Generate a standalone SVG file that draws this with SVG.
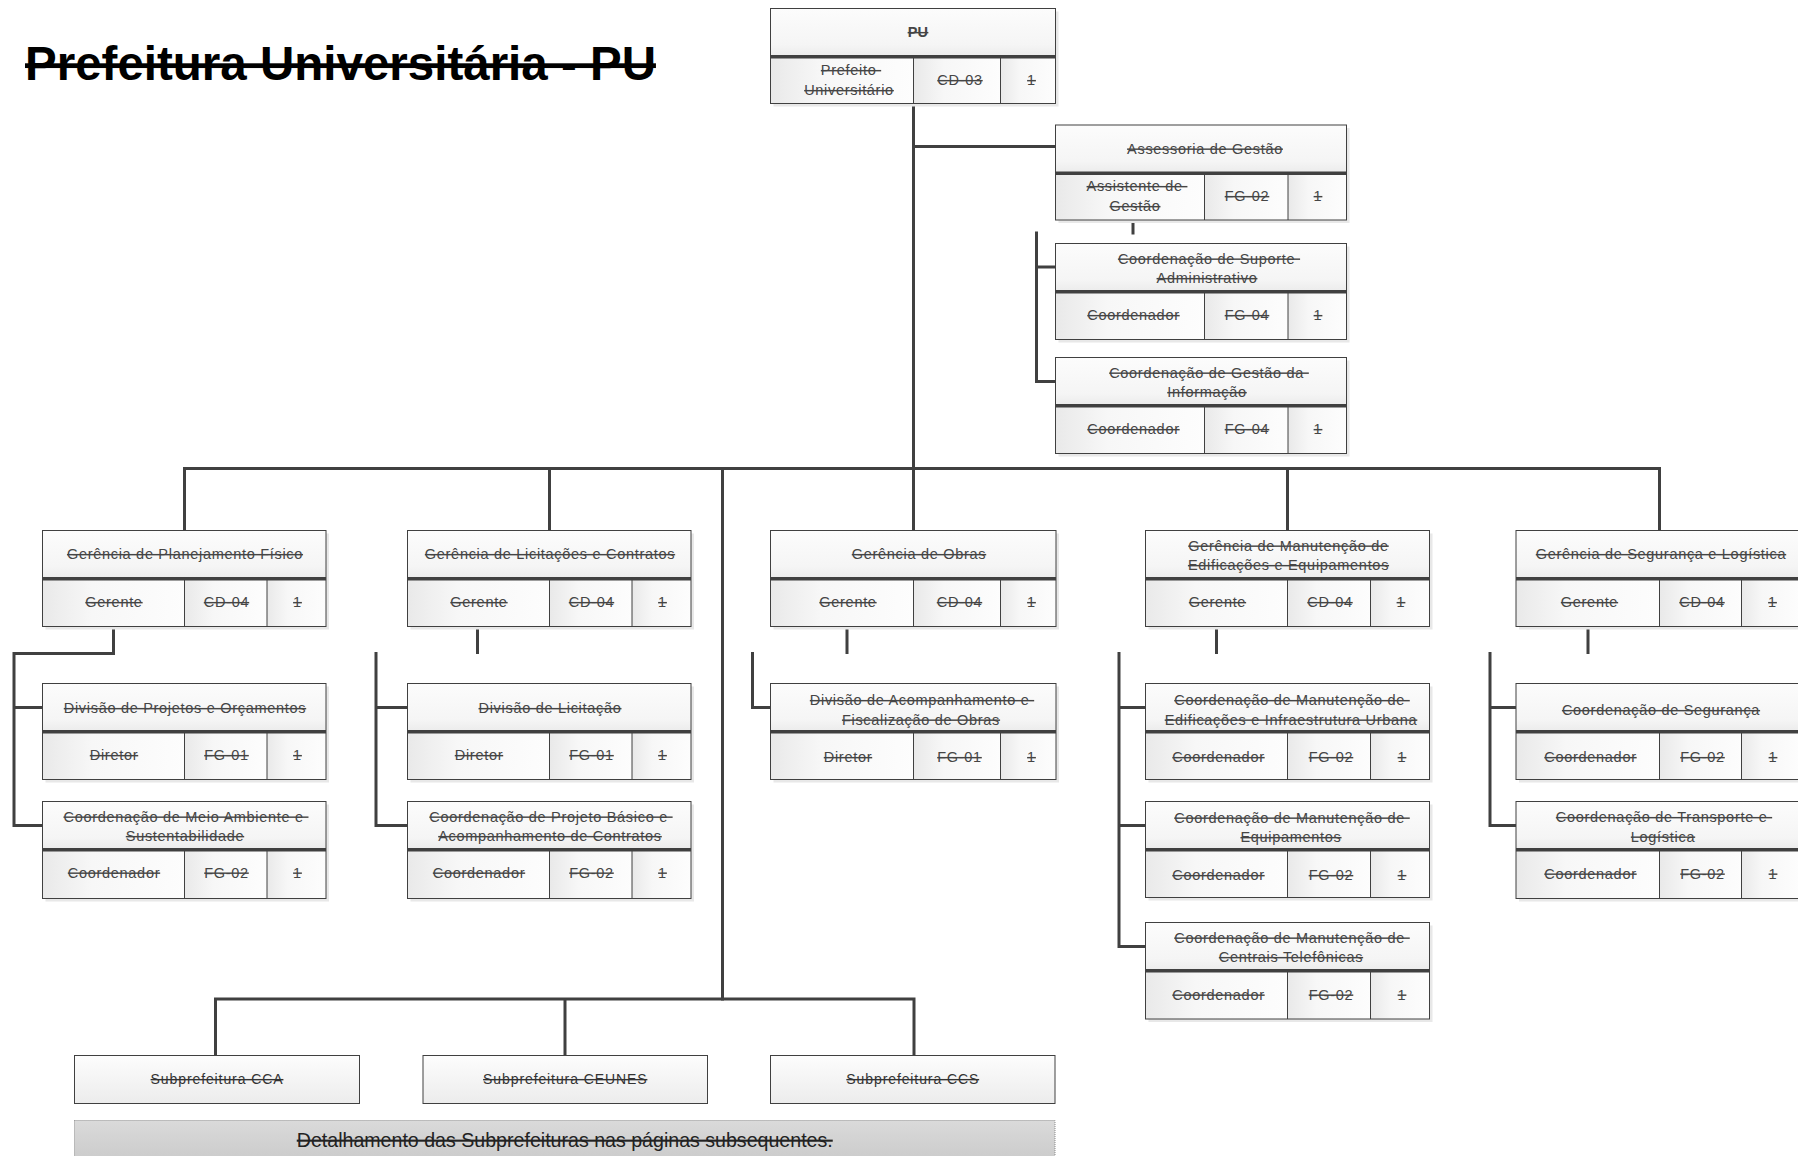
<svg xmlns="http://www.w3.org/2000/svg" width="1798" height="1156" viewBox="0 0 1798 1156">
<defs>
<linearGradient id="hg" x1="0" y1="0" x2="0" y2="1"><stop offset="0" stop-color="#fcfcfc"/><stop offset="0.75" stop-color="#f5f5f5"/><stop offset="1" stop-color="#ebebeb"/></linearGradient>
<linearGradient id="cg" x1="0" y1="0" x2="1" y2="0"><stop offset="0" stop-color="#e9e9e9"/><stop offset="0.35" stop-color="#f7f7f7"/><stop offset="1" stop-color="#fdfdfd"/></linearGradient>
<linearGradient id="sg" x1="0" y1="0" x2="0" y2="1"><stop offset="0" stop-color="#fdfdfd"/><stop offset="1" stop-color="#ececec"/></linearGradient>
<linearGradient id="ng" x1="0" y1="0" x2="0" y2="1"><stop offset="0" stop-color="#dadada"/><stop offset="1" stop-color="#c9c9c9"/></linearGradient>
</defs>
<style>
.sh{fill:#e8e8e8}
.hd{fill:url(#hg)}
.cl{fill:url(#cg)}
.bd{fill:none;stroke:#404040;stroke-width:1}
.sep{stroke:#404040;stroke-width:3.5}
.dv{stroke:#404040;stroke-width:1}
.t{font-family:"Liberation Sans",Arial,sans-serif;font-size:14.5px;letter-spacing:0.7px;fill:#454545;text-anchor:middle;text-decoration:line-through;white-space:pre}
.b{font-weight:bold;letter-spacing:0.3px}
.cn{fill:none;stroke:#404040;stroke-width:3;stroke-linecap:square;stroke-linejoin:miter}
.sb{fill:url(#sg);stroke:#404040;stroke-width:1}
.st{font-family:"Liberation Sans",Arial,sans-serif;font-size:14px;letter-spacing:0.9px;fill:#333;text-anchor:middle;text-decoration:line-through}
</style>
<rect width="1798" height="1156" fill="#ffffff"/>
<text x="25" y="80" font-family="'Liberation Sans',Arial,sans-serif" font-size="47.5" font-weight="bold" fill="#000" text-decoration="line-through">Prefeitura Universitária - PU</text>

<g id="connectors">
<path class="cn" d="M913.5 103.5V530.5M913.5 146.5H1055.5M1133 220V233M1036.5 233V381.5M1036.5 267H1055.5M1036.5 381.5H1055.5"/>
<path class="cn" d="M184.5 468.5H1659.5M184.5 468.5V530.5M549.5 468.5V530.5M1287.5 468.5V530.5M1659.5 468.5V530.5M722.5 468.5V999"/>
<path class="cn" d="M215.5 999H914M215.5 999V1055M565 999V1055M914 999V1055"/>
<path class="cn" d="M113.5 626.5V653.5H14V825.5M14 707.5H42.5M14 825.5H42.5"/>
<path class="cn" d="M477.5 626.5V652.5M376 653.5V825.5M376 707.5H407.5M376 825.5H407.5"/>
<path class="cn" d="M847 626.5V652.5M752.5 653.5V707.5H770.5"/>
<path class="cn" d="M1216.5 626.5V652.5M1119 653.5V946.5M1119 707.5H1145.5M1119 825.5H1145.5M1119 946.5H1145.5"/>
<path class="cn" d="M1588 626.5V652.5M1490 653.5V825.5M1490 707.5H1516M1490 825.5H1516"/>
</g>

<g id="n-pu">
<rect class="sh" x="773.5" y="11.5" width="285" height="95"/>
<rect class="hd" x="770.5" y="8.5" width="285" height="48.3"/>
<rect class="cl" x="770.5" y="56.8" width="143" height="46.7"/>
<rect class="cl" x="913.5" y="56.8" width="87" height="46.7"/>
<rect class="cl" x="1000.5" y="56.8" width="55" height="46.7"/>
<rect class="bd" x="770.5" y="8.5" width="285" height="95"/>
<line class="sep" x1="770.5" y1="56.8" x2="1055.5" y2="56.8"/>
<line class="dv" x1="913.5" y1="56.8" x2="913.5" y2="103.5"/>
<line class="dv" x1="1000.5" y1="56.8" x2="1000.5" y2="103.5"/>
<text class="t b" x="918" y="37">PU</text>
<text class="t" x="851" y="75">Prefeito </text>
<text class="t" x="849" y="95">Universitário</text>
<text class="t" x="960" y="85">CD-03</text>
<text class="t" x="1031.5" y="85">1</text>
</g>

<g id="n-assessoria">
<rect class="sh" x="1058.5" y="128" width="291" height="95"/>
<rect class="hd" x="1055.5" y="125" width="291" height="48.3"/>
<rect class="cl" x="1055.5" y="173.3" width="149" height="46.7"/>
<rect class="cl" x="1204.5" y="173.3" width="83.5" height="46.7"/>
<rect class="cl" x="1288" y="173.3" width="58.5" height="46.7"/>
<rect class="bd" x="1055.5" y="125" width="291" height="95"/>
<line class="sep" x1="1055.5" y1="173.3" x2="1346.5" y2="173.3"/>
<line class="dv" x1="1204.5" y1="173.3" x2="1204.5" y2="220"/>
<line class="dv" x1="1288" y1="173.3" x2="1288" y2="220"/>
<text class="t" x="1205" y="153.5">Assessoria de Gestão</text>
<text class="t" x="1137" y="191">Assistente de </text>
<text class="t" x="1135" y="211">Gestão</text>
<text class="t" x="1247" y="201">FG-02</text>
<text class="t" x="1318" y="201">1</text>
</g>

<g id="n-suporte">
<rect class="sh" x="1058.5" y="246.5" width="291" height="96"/>
<rect class="hd" x="1055.5" y="243.5" width="291" height="48.3"/>
<rect class="cl" x="1055.5" y="291.8" width="149" height="47.7"/>
<rect class="cl" x="1204.5" y="291.8" width="83.5" height="47.7"/>
<rect class="cl" x="1288" y="291.8" width="58.5" height="47.7"/>
<rect class="bd" x="1055.5" y="243.5" width="291" height="96"/>
<line class="sep" x1="1055.5" y1="291.8" x2="1346.5" y2="291.8"/>
<line class="dv" x1="1204.5" y1="291.8" x2="1204.5" y2="339.5"/>
<line class="dv" x1="1288" y1="291.8" x2="1288" y2="339.5"/>
<text class="t" x="1209" y="263.5">Coordenação de Suporte </text>
<text class="t" x="1207" y="283">Administrativo</text>
<text class="t" x="1133.5" y="320">Coordenador</text>
<text class="t" x="1247" y="320">FG-04</text>
<text class="t" x="1318" y="320">1</text>
</g>

<g id="n-gestao-info">
<rect class="sh" x="1058.5" y="360.5" width="291" height="96"/>
<rect class="hd" x="1055.5" y="357.5" width="291" height="48.3"/>
<rect class="cl" x="1055.5" y="405.8" width="149" height="47.7"/>
<rect class="cl" x="1204.5" y="405.8" width="83.5" height="47.7"/>
<rect class="cl" x="1288" y="405.8" width="58.5" height="47.7"/>
<rect class="bd" x="1055.5" y="357.5" width="291" height="96"/>
<line class="sep" x1="1055.5" y1="405.8" x2="1346.5" y2="405.8"/>
<line class="dv" x1="1204.5" y1="405.8" x2="1204.5" y2="453.5"/>
<line class="dv" x1="1288" y1="405.8" x2="1288" y2="453.5"/>
<text class="t" x="1209" y="377.5">Coordenação de Gestão da </text>
<text class="t" x="1207" y="397">Informação</text>
<text class="t" x="1133.5" y="434">Coordenador</text>
<text class="t" x="1247" y="434">FG-04</text>
<text class="t" x="1318" y="434">1</text>
</g>

<g id="n-gpf">
<rect class="sh" x="45.5" y="533.5" width="283.5" height="96"/>
<rect class="hd" x="42.5" y="530.5" width="283.5" height="48.3"/>
<rect class="cl" x="42.5" y="578.8" width="142" height="47.7"/>
<rect class="cl" x="184.5" y="578.8" width="82.5" height="47.7"/>
<rect class="cl" x="267" y="578.8" width="59" height="47.7"/>
<rect class="bd" x="42.5" y="530.5" width="283.5" height="96"/>
<line class="sep" x1="42.5" y1="578.8" x2="326" y2="578.8"/>
<line class="dv" x1="184.5" y1="578.8" x2="184.5" y2="626.5"/>
<line class="dv" x1="267" y1="578.8" x2="267" y2="626.5"/>
<text class="t" x="185" y="559">Gerência de Planejamento Físico</text>
<text class="t" x="114" y="607">Gerente</text>
<text class="t" x="226.5" y="607">CD-04</text>
<text class="t" x="297.5" y="607">1</text>
</g>

<g id="n-dpo">
<rect class="sh" x="45.5" y="686.5" width="283.5" height="96"/>
<rect class="hd" x="42.5" y="683.5" width="283.5" height="48.3"/>
<rect class="cl" x="42.5" y="731.8" width="142" height="47.7"/>
<rect class="cl" x="184.5" y="731.8" width="82.5" height="47.7"/>
<rect class="cl" x="267" y="731.8" width="59" height="47.7"/>
<rect class="bd" x="42.5" y="683.5" width="283.5" height="96"/>
<line class="sep" x1="42.5" y1="731.8" x2="326" y2="731.8"/>
<line class="dv" x1="184.5" y1="731.8" x2="184.5" y2="779.5"/>
<line class="dv" x1="267" y1="731.8" x2="267" y2="779.5"/>
<text class="t" x="185" y="713">Divisão de Projetos e Orçamentos</text>
<text class="t" x="114" y="760">Diretor</text>
<text class="t" x="226.5" y="760">FG-01</text>
<text class="t" x="297.5" y="760">1</text>
</g>

<g id="n-cmas">
<rect class="sh" x="45.5" y="804.5" width="283.5" height="97"/>
<rect class="hd" x="42.5" y="801.5" width="283.5" height="48.3"/>
<rect class="cl" x="42.5" y="849.8" width="142" height="48.7"/>
<rect class="cl" x="184.5" y="849.8" width="82.5" height="48.7"/>
<rect class="cl" x="267" y="849.8" width="59" height="48.7"/>
<rect class="bd" x="42.5" y="801.5" width="283.5" height="97"/>
<line class="sep" x1="42.5" y1="849.8" x2="326" y2="849.8"/>
<line class="dv" x1="184.5" y1="849.8" x2="184.5" y2="898.5"/>
<line class="dv" x1="267" y1="849.8" x2="267" y2="898.5"/>
<text class="t" x="186" y="821.5">Coordenação de Meio Ambiente e </text>
<text class="t" x="185" y="841">Sustentabilidade</text>
<text class="t" x="114" y="877.5">Coordenador</text>
<text class="t" x="226.5" y="877.5">FG-02</text>
<text class="t" x="297.5" y="877.5">1</text>
</g>

<g id="n-glc">
<rect class="sh" x="410.5" y="533.5" width="283.5" height="96"/>
<rect class="hd" x="407.5" y="530.5" width="283.5" height="48.3"/>
<rect class="cl" x="407.5" y="578.8" width="142" height="47.7"/>
<rect class="cl" x="549.5" y="578.8" width="82.5" height="47.7"/>
<rect class="cl" x="632" y="578.8" width="59" height="47.7"/>
<rect class="bd" x="407.5" y="530.5" width="283.5" height="96"/>
<line class="sep" x1="407.5" y1="578.8" x2="691" y2="578.8"/>
<line class="dv" x1="549.5" y1="578.8" x2="549.5" y2="626.5"/>
<line class="dv" x1="632" y1="578.8" x2="632" y2="626.5"/>
<text class="t" x="550" y="559">Gerência de Licitações e Contratos</text>
<text class="t" x="479" y="607">Gerente</text>
<text class="t" x="591.5" y="607">CD-04</text>
<text class="t" x="662.5" y="607">1</text>
</g>

<g id="n-dl">
<rect class="sh" x="410.5" y="686.5" width="283.5" height="96"/>
<rect class="hd" x="407.5" y="683.5" width="283.5" height="48.3"/>
<rect class="cl" x="407.5" y="731.8" width="142" height="47.7"/>
<rect class="cl" x="549.5" y="731.8" width="82.5" height="47.7"/>
<rect class="cl" x="632" y="731.8" width="59" height="47.7"/>
<rect class="bd" x="407.5" y="683.5" width="283.5" height="96"/>
<line class="sep" x1="407.5" y1="731.8" x2="691" y2="731.8"/>
<line class="dv" x1="549.5" y1="731.8" x2="549.5" y2="779.5"/>
<line class="dv" x1="632" y1="731.8" x2="632" y2="779.5"/>
<text class="t" x="550" y="713">Divisão de Licitação</text>
<text class="t" x="479" y="760">Diretor</text>
<text class="t" x="591.5" y="760">FG-01</text>
<text class="t" x="662.5" y="760">1</text>
</g>

<g id="n-cpb">
<rect class="sh" x="410.5" y="804.5" width="283.5" height="97"/>
<rect class="hd" x="407.5" y="801.5" width="283.5" height="48.3"/>
<rect class="cl" x="407.5" y="849.8" width="142" height="48.7"/>
<rect class="cl" x="549.5" y="849.8" width="82.5" height="48.7"/>
<rect class="cl" x="632" y="849.8" width="59" height="48.7"/>
<rect class="bd" x="407.5" y="801.5" width="283.5" height="97"/>
<line class="sep" x1="407.5" y1="849.8" x2="691" y2="849.8"/>
<line class="dv" x1="549.5" y1="849.8" x2="549.5" y2="898.5"/>
<line class="dv" x1="632" y1="849.8" x2="632" y2="898.5"/>
<text class="t" x="551" y="821.5">Coordenação de Projeto Básico e </text>
<text class="t" x="550" y="841">Acompanhamento de Contratos</text>
<text class="t" x="479" y="877.5">Coordenador</text>
<text class="t" x="591.5" y="877.5">FG-02</text>
<text class="t" x="662.5" y="877.5">1</text>
</g>

<g id="n-go">
<rect class="sh" x="773.5" y="533.5" width="285.5" height="96"/>
<rect class="hd" x="770.5" y="530.5" width="285.5" height="48.3"/>
<rect class="cl" x="770.5" y="578.8" width="143" height="47.7"/>
<rect class="cl" x="913.5" y="578.8" width="87" height="47.7"/>
<rect class="cl" x="1000.5" y="578.8" width="55.5" height="47.7"/>
<rect class="bd" x="770.5" y="530.5" width="285.5" height="96"/>
<line class="sep" x1="770.5" y1="578.8" x2="1056" y2="578.8"/>
<line class="dv" x1="913.5" y1="578.8" x2="913.5" y2="626.5"/>
<line class="dv" x1="1000.5" y1="578.8" x2="1000.5" y2="626.5"/>
<text class="t" x="919" y="559">Gerência de Obras</text>
<text class="t" x="848" y="607">Gerente</text>
<text class="t" x="959.5" y="607">CD-04</text>
<text class="t" x="1031.5" y="607">1</text>
</g>

<g id="n-daf">
<rect class="sh" x="773.5" y="686.5" width="285.5" height="96"/>
<rect class="hd" x="770.5" y="683.5" width="285.5" height="48.3"/>
<rect class="cl" x="770.5" y="731.8" width="143" height="47.7"/>
<rect class="cl" x="913.5" y="731.8" width="87" height="47.7"/>
<rect class="cl" x="1000.5" y="731.8" width="55.5" height="47.7"/>
<rect class="bd" x="770.5" y="683.5" width="285.5" height="96"/>
<line class="sep" x1="770.5" y1="731.8" x2="1056" y2="731.8"/>
<line class="dv" x1="913.5" y1="731.8" x2="913.5" y2="779.5"/>
<line class="dv" x1="1000.5" y1="731.8" x2="1000.5" y2="779.5"/>
<text class="t" x="922" y="705">Divisão de Acompanhamento e </text>
<text class="t" x="921" y="724.5">Fiscalização de Obras</text>
<text class="t" x="848" y="762">Diretor</text>
<text class="t" x="959.5" y="762">FG-01</text>
<text class="t" x="1031.5" y="762">1</text>
</g>

<g id="n-gmee">
<rect class="sh" x="1148.5" y="533.5" width="284" height="96"/>
<rect class="hd" x="1145.5" y="530.5" width="284" height="48.3"/>
<rect class="cl" x="1145.5" y="578.8" width="142" height="47.7"/>
<rect class="cl" x="1287.5" y="578.8" width="83" height="47.7"/>
<rect class="cl" x="1370.5" y="578.8" width="59" height="47.7"/>
<rect class="bd" x="1145.5" y="530.5" width="284" height="96"/>
<line class="sep" x1="1145.5" y1="578.8" x2="1429.5" y2="578.8"/>
<line class="dv" x1="1287.5" y1="578.8" x2="1287.5" y2="626.5"/>
<line class="dv" x1="1370.5" y1="578.8" x2="1370.5" y2="626.5"/>
<text class="t" x="1288.5" y="550.5">Gerência de Manutenção de</text>
<text class="t" x="1288.5" y="570">Edificações e Equipamentos</text>
<text class="t" x="1217.5" y="607">Gerente</text>
<text class="t" x="1330" y="607">CD-04</text>
<text class="t" x="1401" y="607">1</text>
</g>

<g id="n-cmei">
<rect class="sh" x="1148.5" y="686.5" width="284" height="96"/>
<rect class="hd" x="1145.5" y="683.5" width="284" height="48.3"/>
<rect class="cl" x="1145.5" y="731.8" width="142" height="47.7"/>
<rect class="cl" x="1287.5" y="731.8" width="83" height="47.7"/>
<rect class="cl" x="1370.5" y="731.8" width="59" height="47.7"/>
<rect class="bd" x="1145.5" y="683.5" width="284" height="96"/>
<line class="sep" x1="1145.5" y1="731.8" x2="1429.5" y2="731.8"/>
<line class="dv" x1="1287.5" y1="731.8" x2="1287.5" y2="779.5"/>
<line class="dv" x1="1370.5" y1="731.8" x2="1370.5" y2="779.5"/>
<text class="t" x="1292" y="705">Coordenação de Manutenção de </text>
<text class="t" x="1291" y="724.5">Edificações e Infraestrutura Urbana</text>
<text class="t" x="1218.5" y="762">Coordenador</text>
<text class="t" x="1331" y="762">FG-02</text>
<text class="t" x="1402" y="762">1</text>
</g>

<g id="n-cme">
<rect class="sh" x="1148.5" y="804.5" width="284" height="96"/>
<rect class="hd" x="1145.5" y="801.5" width="284" height="48.3"/>
<rect class="cl" x="1145.5" y="849.8" width="142" height="47.7"/>
<rect class="cl" x="1287.5" y="849.8" width="83" height="47.7"/>
<rect class="cl" x="1370.5" y="849.8" width="59" height="47.7"/>
<rect class="bd" x="1145.5" y="801.5" width="284" height="96"/>
<line class="sep" x1="1145.5" y1="849.8" x2="1429.5" y2="849.8"/>
<line class="dv" x1="1287.5" y1="849.8" x2="1287.5" y2="897.5"/>
<line class="dv" x1="1370.5" y1="849.8" x2="1370.5" y2="897.5"/>
<text class="t" x="1292" y="822.5">Coordenação de Manutenção de </text>
<text class="t" x="1291" y="842">Equipamentos</text>
<text class="t" x="1218.5" y="880">Coordenador</text>
<text class="t" x="1331" y="880">FG-02</text>
<text class="t" x="1402" y="880">1</text>
</g>

<g id="n-cmct">
<rect class="sh" x="1148.5" y="925.5" width="284" height="96.5"/>
<rect class="hd" x="1145.5" y="922.5" width="284" height="48.3"/>
<rect class="cl" x="1145.5" y="970.8" width="142" height="48.2"/>
<rect class="cl" x="1287.5" y="970.8" width="83" height="48.2"/>
<rect class="cl" x="1370.5" y="970.8" width="59" height="48.2"/>
<rect class="bd" x="1145.5" y="922.5" width="284" height="96.5"/>
<line class="sep" x1="1145.5" y1="970.8" x2="1429.5" y2="970.8"/>
<line class="dv" x1="1287.5" y1="970.8" x2="1287.5" y2="1019"/>
<line class="dv" x1="1370.5" y1="970.8" x2="1370.5" y2="1019"/>
<text class="t" x="1292" y="942.5">Coordenação de Manutenção de </text>
<text class="t" x="1291" y="962">Centrais Telefônicas</text>
<text class="t" x="1218.5" y="999.5">Coordenador</text>
<text class="t" x="1331" y="999.5">FG-02</text>
<text class="t" x="1402" y="999.5">1</text>
</g>

<g id="n-gsl">
<rect class="sh" x="1519" y="533.5" width="284" height="96"/>
<rect class="hd" x="1516" y="530.5" width="284" height="48.3"/>
<rect class="cl" x="1516" y="578.8" width="143.5" height="47.7"/>
<rect class="cl" x="1659.5" y="578.8" width="82" height="47.7"/>
<rect class="cl" x="1741.5" y="578.8" width="58.5" height="47.7"/>
<rect class="bd" x="1516" y="530.5" width="284" height="96"/>
<line class="sep" x1="1516" y1="578.8" x2="1800" y2="578.8"/>
<line class="dv" x1="1659.5" y1="578.8" x2="1659.5" y2="626.5"/>
<line class="dv" x1="1741.5" y1="578.8" x2="1741.5" y2="626.5"/>
<text class="t" x="1661" y="559">Gerência de Segurança e Logística</text>
<text class="t" x="1589.5" y="607">Gerente</text>
<text class="t" x="1702" y="607">CD-04</text>
<text class="t" x="1772.5" y="607">1</text>
</g>

<g id="n-cs">
<rect class="sh" x="1519" y="686.5" width="284" height="96"/>
<rect class="hd" x="1516" y="683.5" width="284" height="48.3"/>
<rect class="cl" x="1516" y="731.8" width="143.5" height="47.7"/>
<rect class="cl" x="1659.5" y="731.8" width="82" height="47.7"/>
<rect class="cl" x="1741.5" y="731.8" width="58.5" height="47.7"/>
<rect class="bd" x="1516" y="683.5" width="284" height="96"/>
<line class="sep" x1="1516" y1="731.8" x2="1800" y2="731.8"/>
<line class="dv" x1="1659.5" y1="731.8" x2="1659.5" y2="779.5"/>
<line class="dv" x1="1741.5" y1="731.8" x2="1741.5" y2="779.5"/>
<text class="t" x="1661" y="715">Coordenação de Segurança</text>
<text class="t" x="1590.5" y="762">Coordenador</text>
<text class="t" x="1702.5" y="762">FG-02</text>
<text class="t" x="1773" y="762">1</text>
</g>

<g id="n-ctl">
<rect class="sh" x="1519" y="804.5" width="284" height="97"/>
<rect class="hd" x="1516" y="801.5" width="284" height="48.3"/>
<rect class="cl" x="1516" y="849.8" width="143.5" height="48.7"/>
<rect class="cl" x="1659.5" y="849.8" width="82" height="48.7"/>
<rect class="cl" x="1741.5" y="849.8" width="58.5" height="48.7"/>
<rect class="bd" x="1516" y="801.5" width="284" height="97"/>
<line class="sep" x1="1516" y1="849.8" x2="1800" y2="849.8"/>
<line class="dv" x1="1659.5" y1="849.8" x2="1659.5" y2="898.5"/>
<line class="dv" x1="1741.5" y1="849.8" x2="1741.5" y2="898.5"/>
<text class="t" x="1664" y="822">Coordenação de Transporte e </text>
<text class="t" x="1663" y="841.5">Logística</text>
<text class="t" x="1590.5" y="878.5">Coordenador</text>
<text class="t" x="1702.5" y="878.5">FG-02</text>
<text class="t" x="1773" y="878.5">1</text>
</g>

<g id="n-sub-cca">
<rect class="sb" x="74.5" y="1055.5" width="285" height="48"/>
<text class="st" x="217" y="1084">Subprefeitura CCA</text>
</g>
<g id="n-sub-ceunes">
<rect class="sb" x="423" y="1055.5" width="284.5" height="48"/>
<text class="st" x="565.25" y="1084">Subprefeitura CEUNES</text>
</g>
<g id="n-sub-ccs">
<rect class="sb" x="770.5" y="1055.5" width="284.5" height="48"/>
<text class="st" x="912.75" y="1084">Subprefeitura CCS</text>
</g>

<g id="n-note">
<rect x="74.5" y="1120.5" width="980.5" height="45" fill="url(#ng)" stroke="#8a8a8a" stroke-width="1" stroke-dasharray="1 1"/>
<text x="564.75" y="1147" font-family="'Liberation Sans',Arial,sans-serif" font-size="21" fill="#222" text-anchor="middle" text-decoration="line-through" textLength="536" lengthAdjust="spacingAndGlyphs">Detalhamento das Subprefeituras nas páginas subsequentes.</text>
</g>
</svg>
